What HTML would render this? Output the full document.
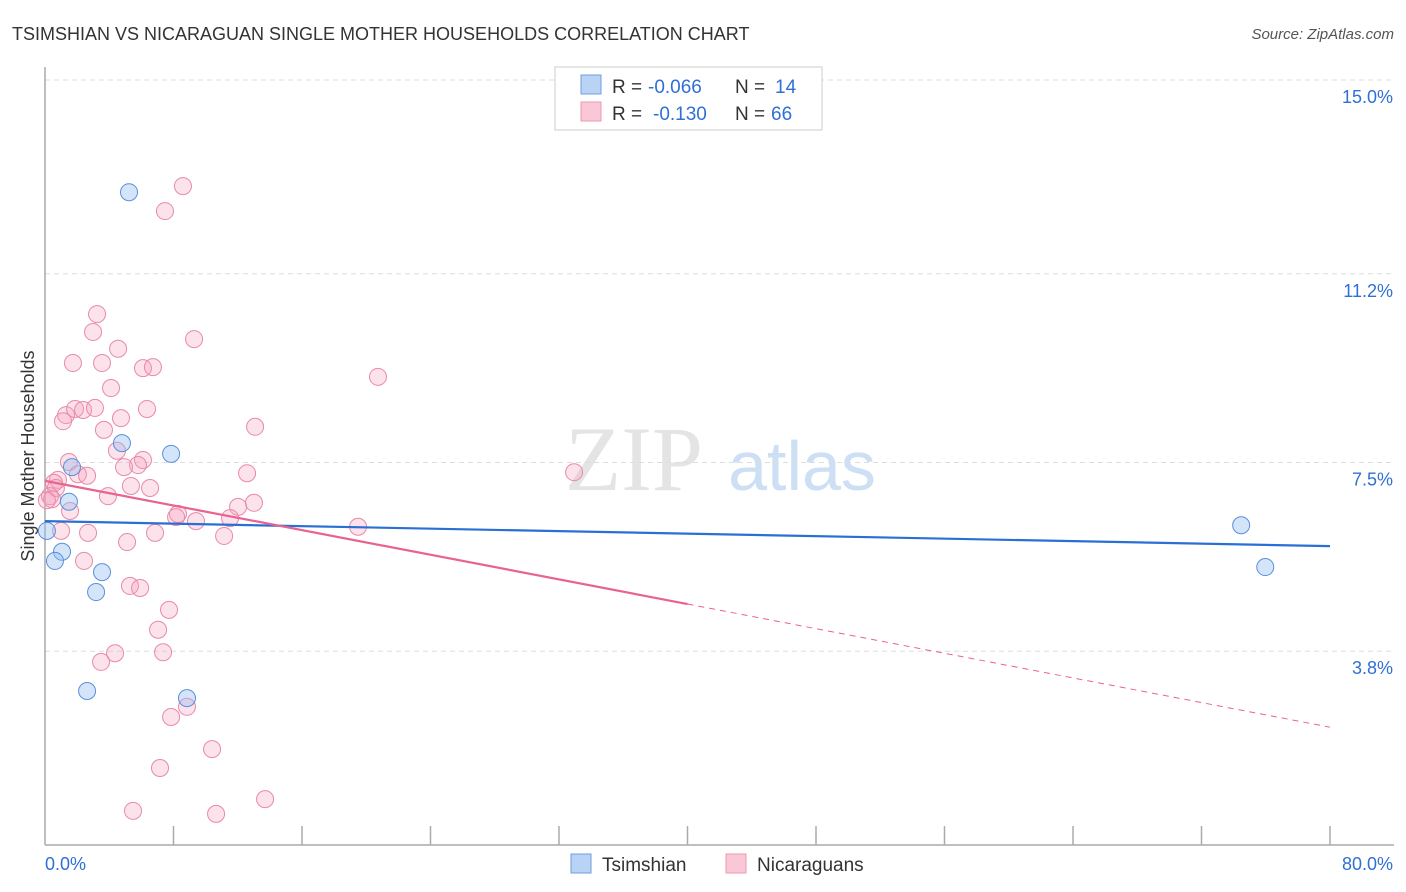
<!DOCTYPE html>
<html><head><meta charset="utf-8"><style>
body{margin:0;background:#fff;font-family:"Liberation Sans",sans-serif;}
svg{display:block}
</style></head><body>
<svg id="chart" width="1406" height="892">
<text x="12" y="40" font-size="18" fill="#333">TSIMSHIAN VS NICARAGUAN SINGLE MOTHER HOUSEHOLDS CORRELATION CHART</text>
<text x="1394" y="39" font-size="15" fill="#555" font-style="italic" text-anchor="end">Source: ZipAtlas.com</text>
<text x="634" y="490" font-size="92" fill="#e4e4e4" font-family="Liberation Serif,serif" text-anchor="middle">ZIP</text>
<text x="802" y="490" font-size="70" fill="#cddff4" text-anchor="middle">atlas</text>
<text transform="translate(34,456) rotate(-90)" font-size="18" fill="#333" text-anchor="middle">Single Mother Households</text>
<g id="grid"></g><g id="axes"></g><g id="pts"></g><g id="trend"></g>
<g>
<rect x="555" y="67" width="267" height="63" fill="#fff" stroke="#ccc"/>
<rect x="581" y="75" width="20" height="19" fill="#b9d3f5" stroke="#6d9fe0"/>
<rect x="581" y="102" width="20" height="19" fill="#f9c7d6" stroke="#e99ab2"/>
<text x="612" y="93" font-size="19" fill="#333">R =</text>
<text x="648" y="93" font-size="19" fill="#2f6fd6">-0.066</text>
<text x="735" y="93" font-size="19" fill="#333">N =</text>
<text x="775" y="93" font-size="19" fill="#2f6fd6">14</text>
<text x="612" y="120" font-size="19" fill="#333">R =</text>
<text x="653" y="120" font-size="19" fill="#2f6fd6">-0.130</text>
<text x="735" y="120" font-size="19" fill="#333">N =</text>
<text x="771" y="120" font-size="19" fill="#2f6fd6">66</text>
</g>
<g>
<rect x="571" y="854" width="20" height="19" fill="#b9d3f5" stroke="#6d9fe0"/>
<text x="602" y="871" font-size="19" fill="#333">Tsimshian</text>
<rect x="726" y="854" width="20" height="19" fill="#f9c7d6" stroke="#e99ab2"/>
<text x="757" y="871" font-size="19" fill="#333">Nicaraguans</text>
</g>
</svg>
<script>
const yTicks=[15.0,11.2,7.5,3.8];
const yTickLabels=["15.0%","11.2%","7.5%","3.8%"];
const xTickLabels=["0.0%","80.0%"];
const tsimX=[5.23,0.12,4.79,7.85,1.68,1.49,1.06,0.62,3.55,3.18,2.62,8.84,74.47,75.97];
const tsimY=[12.80,6.16,7.88,7.67,7.41,6.73,5.75,5.57,5.35,4.96,3.02,2.88,6.27,5.45];
const nicX=[8.59,7.47,3.24,2.99,9.28,4.55,1.74,3.55,6.10,6.72,20.73,4.11,1.31,1.12,1.87,2.37,3.11,6.35,4.73,3.67,13.08,4.48,6.10,1.49,5.79,4.92,12.58,2.05,2.62,32.94,0.81,0.56,0.68,5.35,6.54,3.92,0.31,0.44,0.12,12.02,13.01,1.56,8.28,8.16,9.40,11.52,19.49,6.85,2.68,1.00,11.15,5.11,2.43,5.29,5.92,7.72,7.04,7.35,4.36,3.49,8.84,7.85,10.40,7.16,13.70,5.48,10.65];
const nicY=[12.92,12.43,10.41,10.06,9.92,9.73,9.45,9.45,9.35,9.37,9.18,8.96,8.43,8.31,8.55,8.53,8.57,8.55,8.37,8.14,8.20,7.73,7.55,7.51,7.45,7.41,7.29,7.27,7.24,7.31,7.16,7.10,7.00,7.04,7.00,6.84,6.84,6.78,6.76,6.63,6.71,6.55,6.49,6.43,6.35,6.41,6.24,6.12,6.12,6.16,6.06,5.94,5.57,5.08,5.04,4.61,4.22,3.78,3.76,3.59,2.71,2.51,1.88,1.51,0.90,0.67,0.61];
const tsimTrend=[6.35,5.86];
const nicTrend=[7.14,2.31];
const X0=45,X1=1330,Y0=845,YT=80;
const sx=v=>X0+v/80*(X1-X0);
const sy=v=>Y0-v/15*(Y0-YT);
const NS="http://www.w3.org/2000/svg";
function mk(p,t,a){const e=document.createElementNS(NS,t);for(const k in a)e.setAttribute(k,a[k]);p.appendChild(e);return e;}
const grid=document.getElementById('grid'),axes=document.getElementById('axes');
yTicks.forEach((v,i)=>{
 const l=mk(grid,'line',{x1:X0,x2:1394,y1:sy(v),y2:sy(v),stroke:'#ddd','stroke-dasharray':'5,4'});
 
 
 const t=mk(grid,'text',{x:1393,y:sy(v)+23,'font-size':18,fill:'#2f6fd6','text-anchor':'end'});
 t.textContent=yTickLabels[i];
 
 
});
const ya=mk(axes,'line',{x1:X0,x2:X0,y1:67,y2:Y0,stroke:'#aaa','stroke-width':1.5});


const xa=mk(axes,'line',{x1:X0,x2:1394,y1:Y0,y2:Y0,stroke:'#aaa','stroke-width':1.5});


for(let i=1;i<=10;i++){const tk=mk(axes,'line',{x1:sx(i*8),x2:sx(i*8),y1:826,y2:Y0,stroke:'#aaa','stroke-width':1.5});
 
 }
const xl0=mk(axes,'text',{x:45,y:870,'font-size':18,fill:'#2f6fd6'});xl0.textContent=xTickLabels[0];


const xl1=mk(axes,'text',{x:1393,y:870,'font-size':18,fill:'#2f6fd6','text-anchor':'end'});xl1.textContent=xTickLabels[1];


const pts=document.getElementById('pts');
nicX.forEach((x,i)=>{const c=mk(pts,'circle',{cx:sx(x),cy:sy(nicY[i]),r:8.5,fill:'rgba(244,160,188,0.3)',stroke:'#e88aa8','stroke-width':1});
 
 });
tsimX.forEach((x,i)=>{const c=mk(pts,'circle',{cx:sx(x),cy:sy(tsimY[i]),r:8.5,fill:'rgba(150,190,240,0.4)',stroke:'#5a8fdc','stroke-width':1});
 
 });
const tr=document.getElementById('trend');
const b=mk(tr,'line',{x1:sx(0),y1:sy(tsimTrend[0]),x2:sx(80),y2:sy(tsimTrend[1]),stroke:'#2a6fd4','stroke-width':2.2});


const pm=nicTrend[0]+(nicTrend[1]-nicTrend[0])*0.5;
const p1=mk(tr,'line',{x1:sx(0),y1:sy(nicTrend[0]),x2:sx(40),y2:sy(pm),stroke:'#e8648f','stroke-width':2.2});


const p2=mk(tr,'line',{x1:sx(40),y1:sy(pm),x2:sx(80),y2:sy(nicTrend[1]),stroke:'#e8648f','stroke-width':1,'stroke-dasharray':'6,5'});


</script>
</body></html>
